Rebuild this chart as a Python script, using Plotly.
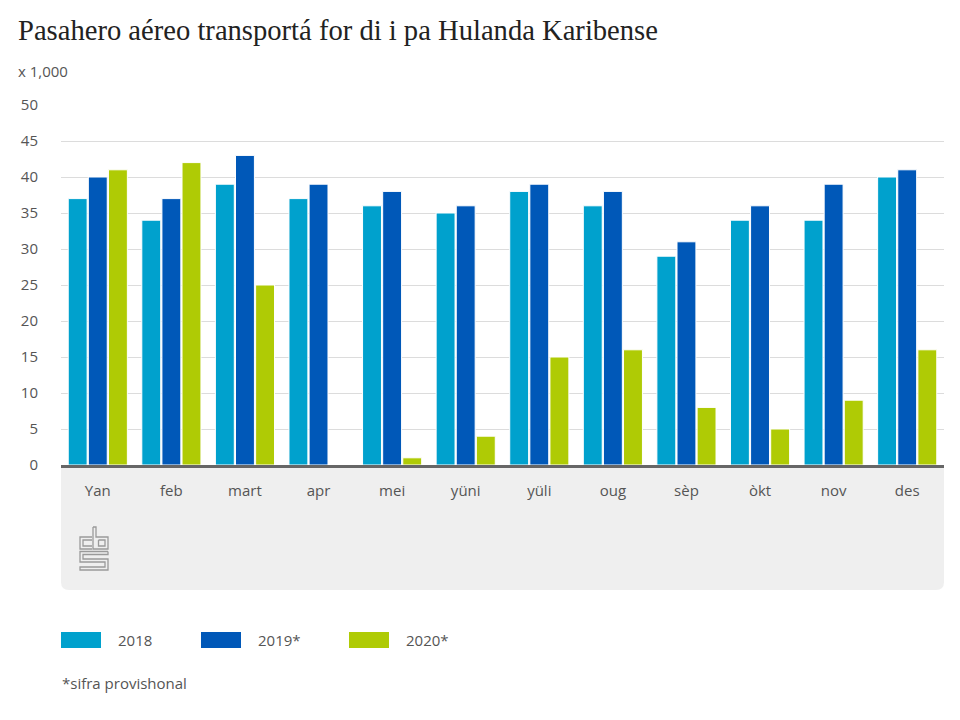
import plotly.graph_objects as go

# ---------------- data ----------------
months = ["Yan", "feb", "mart", "apr", "mei", "yüni", "yüli", "oug", "sèp", "òkt", "nov", "des"]
v2018 = [37, 34, 39, 37, 36, 35, 38, 36, 29, 34, 34, 40]
v2019 = [40, 37, 43, 39, 38, 36, 39, 38, 31, 36, 39, 41]
v2020 = [41, 42, 25, 0, 1, 4, 15, 16, 8, 5, 9, 16]
series_names = ["2018", "2019*", "2020*"]
series_values = [v2018, v2019, v2020]
series_colors = ["#00a1cd", "#0058b8", "#afcb05"]
y_ticks = [0, 5, 10, 15, 20, 25, 30, 35, 40, 45, 50]

title_text = "Pasahero aéreo transportá for di i pa Hulanda Karibense"
unit_text = "x 1,000"
footnote_text = "*sifra provishonal"

# ---------------- layout helpers (screen pixel -> paper) ----------------
W, H = 960, 720
OFF = 8  # page body margin
PL, PR, PT, PB = 61 - OFF, 944 - OFF, 105 - OFF, 465 - OFF


def fx(px):
    return (px - OFF - PL) / (PR - PL)


def fy(py):
    return (PB - (py - OFF)) / (PB - PT)


TXT = "#555555"
FONT = "Open Sans"

fig = go.Figure()
for name, vals, col in zip(series_names, series_values, series_colors):
    fig.add_trace(go.Bar(
        x=months, y=vals, name=name,
        marker=dict(color=col, line=dict(color="white", width=1)),
        showlegend=False,
    ))

shapes = []
annotations = []

# grey panel below the axis with rounded bottom corners
r = 8
x0, x1, y0, y1 = 61, 944, 466, 590
path = (f"M{fx(x0)},{fy(y0)} L{fx(x1)},{fy(y0)} L{fx(x1)},{fy(y1 - r)} "
        f"Q{fx(x1)},{fy(y1)} {fx(x1 - r)},{fy(y1)} L{fx(x0 + r)},{fy(y1)} "
        f"Q{fx(x0)},{fy(y1)} {fx(x0)},{fy(y1 - r)} Z")
shapes.append(dict(type="path", xref="paper", yref="paper", path=path,
                   fillcolor="#efefef", line=dict(width=0), layer="below"))

# cbs logo (outline drawing)
logo_paths = [
    [(92, 537), (80, 537), (80, 549), (92, 549)],
    [(92, 540), (83, 540), (83, 546), (92, 546)],
    [(93, 527), (96, 527), (96, 537), (108, 537), (108, 549), (93, 549), (93, 527)],
    [(98.5, 540), (105, 540), (105, 546), (98.5, 546), (98.5, 540)],
    [(108, 551.5), (80, 551.5), (80, 562), (105, 562), (105, 567), (80, 567), (80, 570),
     (108, 570), (108, 559), (83, 559), (83, 554.5), (108, 554.5), (108, 551.5)],
]
for pts in logo_paths:
    p = "M" + " L".join(f"{fx(a)},{fy(b)}" for a, b in pts)
    shapes.append(dict(type="path", xref="paper", yref="paper", path=p,
                       line=dict(color="#9a9a9a", width=1.3)))

# custom legend
legend_x = [61, 201, 349]
for lx, name, col in zip(legend_x, series_names, series_colors):
    shapes.append(dict(type="rect", xref="paper", yref="paper",
                       x0=fx(lx), x1=fx(lx + 40), y0=fy(632), y1=fy(648),
                       fillcolor=col, line=dict(width=0)))
    annotations.append(dict(x=fx(lx + 55), y=fy(640), xref="paper", yref="paper",
                            text=name, showarrow=False, xanchor="left", yanchor="middle",
                            font=dict(family=FONT, size=15, color=TXT)))

annotations.append(dict(x=fx(16), y=fy(30), xref="paper", yref="paper", text=title_text,
                        showarrow=False, xanchor="left", yanchor="middle",
                        font=dict(family="Liberation Serif", size=28.6, color="#222222")))
annotations.append(dict(x=fx(16), y=fy(71), xref="paper", yref="paper", text=unit_text,
                        showarrow=False, xanchor="left", yanchor="middle",
                        font=dict(family=FONT, size=15, color=TXT)))
annotations.append(dict(x=fx(60), y=fy(683), xref="paper", yref="paper", text=footnote_text,
                        showarrow=False, xanchor="left", yanchor="middle",
                        font=dict(family=FONT, size=15, color=TXT)))

fig.update_layout(
    width=W, height=H,
    margin=dict(l=PL, r=W - PR, t=PT, b=H - PB, pad=0),
    paper_bgcolor="white", plot_bgcolor="white",
    barmode="group", bargap=0.18, bargroupgap=0.06,
    font=dict(family=FONT, size=15, color=TXT),
    shapes=shapes, annotations=annotations,
    showlegend=False,
)
fig.update_xaxes(showgrid=False, showline=True, linecolor="#666666", linewidth=3,
                 ticks="", ticklabelstandoff=10, tickfont=dict(size=15, color=TXT),
                 fixedrange=True)
fig.update_yaxes(range=[0, 50], tickvals=y_ticks, showgrid=True, gridcolor="#dcdcdc",
                 gridwidth=1, zeroline=False, showline=False, ticks="",
                 ticklabelstandoff=22, tickfont=dict(size=15, color=TXT), fixedrange=True)

fig.write_html("out.html")
